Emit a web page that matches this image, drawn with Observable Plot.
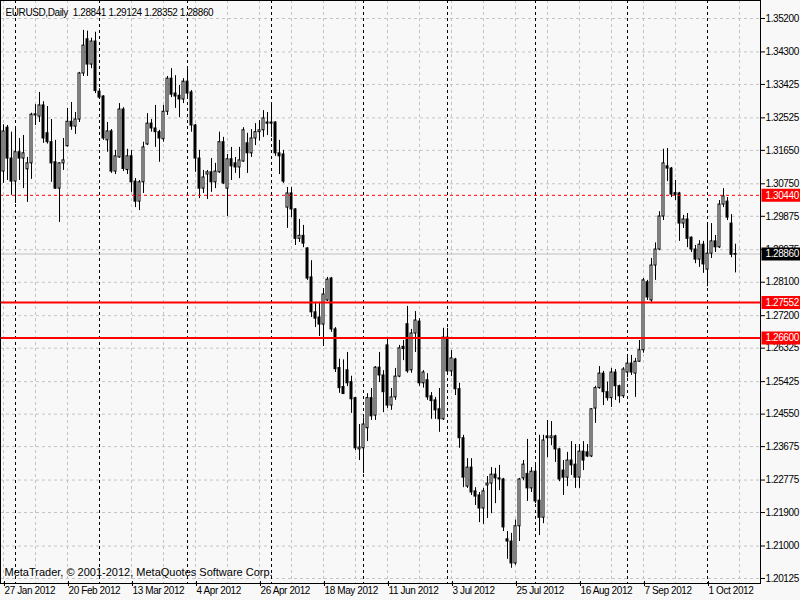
<!DOCTYPE html>
<html><head><meta charset="utf-8">
<script src="https://cdn.jsdelivr.net/npm/d3@7"></script>
<script src="https://cdn.jsdelivr.net/npm/@observablehq/plot@0.6"></script>
<style>
html,body{margin:0;padding:0;background:#f8f8f8;}
#chart svg{display:block;}
#chart svg text{letter-spacing:-0.4px;}
#chart svg .caption text{letter-spacing:0;}
</style></head><body><div id="chart"></div>
<script>
const symbolName = "EURUSD";
const period = "Daily";
const opens = [1.3108,1.3226,1.3143,1.3081,1.3160,1.3143,1.3114,1.3130,1.3259,1.3256,
1.3286,1.3211,1.3187,1.3133,1.3062,1.3130,1.3176,1.3242,1.3229,1.3248,
1.3372,1.3464,1.3396,1.3458,1.3323,1.3310,1.3192,1.3216,1.3108,1.3146,
1.3275,1.3112,1.3149,1.3081,1.3027,1.3079,1.3181,1.3237,1.3224,1.3214,
1.3195,1.3269,1.3358,1.3318,1.3312,1.3302,1.3350,1.3321,1.3232,1.3143,
1.3062,1.3100,1.3106,1.3079,1.3106,1.3187,1.3062,1.3141,1.3130,1.3119,
1.3135,1.3184,1.3157,1.3197,1.3214,1.3219,1.3240,1.3240,1.3240,1.3157,
1.3154,1.3011,1.3049,1.3006,1.2927,1.2935,1.2901,1.2823,1.2729,1.2715,
1.2696,1.2761,1.2820,1.2683,1.2579,1.2528,1.2573,1.2541,1.2498,1.2360,
1.2363,1.2417,1.2498,1.2451,1.2580,1.2559,1.2640,1.2478,1.2500,1.2556,
1.2636,1.2697,1.2573,1.2672,1.2704,1.2538,1.2546,1.2503,1.2492,1.2468,
1.2441,1.2661,1.2570,1.2602,1.2522,1.2390,1.2260,1.2311,1.2247,1.2236,
1.2201,1.2263,1.2268,1.2292,1.2282,1.2279,1.2118,1.2112,1.2053,1.2153,
1.2282,1.2294,1.2255,1.2300,1.2222,1.2176,1.2395,1.2390,1.2395,1.2360,
1.2303,1.2284,1.2330,1.2319,1.2284,1.2354,1.2352,1.2341,1.2470,1.2525,
1.2564,1.2514,1.2498,1.2567,1.2530,1.2503,1.2567,1.2591,1.2564,1.2596,
1.2627,1.2810,1.2761,1.2855,1.2898,1.2987,1.3122,1.3116,1.3050,1.3049,
1.2968,1.2979,1.2930,1.2898,1.2871,1.2911,1.2844,1.2887,1.2920,1.2904,
1.3019,1.3027,1.2968,1.28841];
const highs = [1.3234,1.3232,1.3214,1.3224,1.3197,1.3205,1.3146,1.3265,1.3288,1.3321,
1.3296,1.3283,1.3248,1.3192,1.3132,1.3197,1.3278,1.3294,1.3267,1.3375,
1.3488,1.3486,1.3467,1.3483,1.3331,1.3312,1.3240,1.3221,1.3165,1.3291,
1.3280,1.3168,1.3165,1.3089,1.3084,1.3187,1.3264,1.3248,1.3286,1.3219,
1.3286,1.3364,1.3385,1.3366,1.3340,1.3358,1.3385,1.3326,1.3235,1.3165,
1.3111,1.3111,1.3143,1.3130,1.3214,1.3200,1.3154,1.3173,1.3146,1.3173,
1.3226,1.3211,1.3221,1.3237,1.3245,1.3272,1.3267,1.3291,1.3242,1.3192,
1.3165,1.3065,1.3065,1.3008,1.2979,1.2963,1.2903,1.2868,1.2756,1.2756,
1.2793,1.2823,1.2823,1.2688,1.2603,1.2601,1.2621,1.2557,1.2500,1.2427,
1.2445,1.2510,1.2524,1.2583,1.2621,1.2572,1.2661,1.2524,1.2578,1.2640,
1.2653,1.2745,1.2683,1.2731,1.2712,1.2572,1.2564,1.2513,1.2500,1.2524,
1.2686,1.2686,1.2626,1.2605,1.2538,1.2398,1.2335,1.2335,1.2257,1.2244,
1.2255,1.2287,1.2311,1.2309,1.2317,1.2282,1.2139,1.2134,1.2170,1.2282,
1.2330,1.2387,1.2311,1.2317,1.2398,1.2398,1.2438,1.2435,1.2398,1.2363,
1.2330,1.2352,1.2381,1.2373,1.2373,1.2381,1.2373,1.2470,1.2530,1.2583,
1.2570,1.2541,1.2578,1.2575,1.2533,1.2580,1.2607,1.2613,1.2605,1.2653,
1.2820,1.2815,1.2874,1.2916,1.3000,1.3168,1.3170,1.3119,1.3084,1.3052,
1.2990,1.2995,1.2932,1.2909,1.2922,1.2920,1.2968,1.2968,1.2936,1.3030,
1.3062,1.3038,1.2992,1.29124];
const lows = [1.3076,1.3084,1.3044,1.3022,1.3084,1.3062,1.3025,1.3087,1.3232,1.3240,
1.3184,1.3182,1.3079,1.3060,1.2971,1.3111,1.3174,1.3219,1.3208,1.3240,
1.3364,1.3364,1.3385,1.3318,1.3304,1.3192,1.3160,1.3103,1.3100,1.3144,
1.3108,1.3100,1.3052,1.3011,1.3003,1.3049,1.3178,1.3214,1.3173,1.3133,
1.3187,1.3259,1.3307,1.3278,1.3253,1.3291,1.3310,1.3214,1.3106,1.3035,
1.3049,1.3033,1.3052,1.3062,1.3103,1.3073,1.2987,1.3084,1.3103,1.3089,
1.3133,1.3103,1.3146,1.3178,1.3190,1.3200,1.3205,1.3200,1.3149,1.3100,
1.3076,1.2955,1.2984,1.2909,1.2917,1.2903,1.2815,1.2715,1.2688,1.2664,
1.2637,1.2758,1.2675,1.2567,1.2511,1.2508,1.2529,1.2457,1.2357,1.2330,
1.2295,1.2381,1.2438,1.2438,1.2540,1.2459,1.2470,1.2465,1.2492,1.2553,
1.2599,1.2565,1.2565,1.2621,1.2530,1.2525,1.2492,1.2441,1.2441,1.2406,
1.2438,1.2565,1.2556,1.2505,1.2363,1.2257,1.2255,1.2236,1.2209,1.2163,
1.2158,1.2174,1.2187,1.2214,1.2249,1.2139,1.2064,1.2040,1.2048,1.2112,
1.2276,1.2220,1.2244,1.2214,1.2128,1.2160,1.2338,1.2370,1.2325,1.2273,
1.2236,1.2260,1.2290,1.2255,1.2255,1.2303,1.2338,1.2338,1.2430,1.2522,
1.2478,1.2490,1.2473,1.2492,1.2484,1.2497,1.2553,1.2559,1.2500,1.2594,
1.2619,1.2761,1.2756,1.2815,1.2895,1.2976,1.3081,1.3038,1.3030,1.2920,
1.2955,1.2903,1.2890,1.2860,1.2850,1.2834,1.2798,1.2874,1.2890,1.2901,
1.3011,1.2976,1.2876,1.28352];
const closes = [1.3216,1.3143,1.3081,1.3160,1.3143,1.3157,1.3130,1.3261,1.3262,1.3286,
1.3197,1.3187,1.3130,1.3062,1.3130,1.3138,1.3242,1.3229,1.3248,1.3372,
1.3447,1.3396,1.3458,1.3325,1.3307,1.3197,1.3216,1.3108,1.3149,1.3275,
1.3115,1.3149,1.3079,1.3027,1.3079,1.3173,1.3237,1.3224,1.3214,1.3197,
1.3269,1.3358,1.3315,1.3310,1.3302,1.3350,1.3318,1.3232,1.3143,1.3062,
1.3092,1.3106,1.3079,1.3108,1.3187,1.3076,1.3141,1.3122,1.3119,1.3138,
1.3219,1.3157,1.3197,1.3214,1.3219,1.3251,1.3237,1.3237,1.3157,1.3149,
1.3081,1.3049,1.3006,1.2927,1.2935,1.2914,1.2820,1.2729,1.2712,1.2696,
1.2777,1.2817,1.2683,1.2576,1.2525,1.2509,1.2538,1.2495,1.2363,1.2365,
1.2427,1.2498,1.2449,1.2580,1.2559,1.2514,1.2478,1.2500,1.2556,1.2632,
1.2630,1.2570,1.2672,1.2707,1.2538,1.2567,1.2500,1.2490,1.2465,1.2441,
1.2661,1.2570,1.2605,1.2522,1.2390,1.2284,1.2311,1.2244,1.2233,1.2201,
1.2247,1.2268,1.2292,1.2282,1.2279,1.2150,1.2112,1.2053,1.2153,1.2279,
1.2319,1.2255,1.2300,1.2220,1.2176,1.2384,1.2390,1.2395,1.2360,1.2279,
1.2284,1.2330,1.2317,1.2284,1.2354,1.2330,1.2341,1.2468,1.2525,1.2564,
1.2514,1.2498,1.2567,1.2530,1.2503,1.2575,1.2591,1.2567,1.2596,1.2627,
1.2815,1.2769,1.2855,1.2898,1.2987,1.3130,1.3116,1.3046,1.3045,1.2968,
1.2979,1.2927,1.2898,1.2871,1.2911,1.2858,1.2887,1.2920,1.2904,1.3019,
1.3041,1.2984,1.2884,1.28860];
const tickBars = [0,16,32,48,64,80,96,112,128,144,160,176];
const tickLabels = ["27 Jan 2012","20 Feb 2012","13 Mar 2012","4 Apr 2012","26 Apr 2012","18 May 2012","11 Jun 2012","3 Jul 2012","25 Jul 2012","16 Aug 2012","7 Sep 2012","1 Oct 2012"];
const monthStartBars = [3,24,46,67,90,111,133,156,176];
const gridBars = [0,8,16,24,32,40,48,56,64,72,80,88,96,104,112,120,128,136,144,152,160,168,176,184];
const priceTicks = [1.35200,1.34300,1.33425,1.32525,1.31650,1.30750,1.29875,1.28975,1.28100,1.27200,1.26325,1.25425,1.24550,1.23675,1.22775,1.21900,1.21000,1.20125];
const levelLines = [1.27552, 1.26600];
const alertLevel = [1.30440];
const caption = "MetaTrader, \u00a9 2001-2012, MetaQuotes Software Corp.";

const bars = opens.map((o, i) => ({i, o, h: highs[i], l: lows[i], c: closes[i]}));
const bull = bars.filter(d => d.c >= d.o);
const bear = bars.filter(d => d.c < d.o);
const last = bars[bars.length - 1];
const bid = last.c;
const f5 = d3.format(".5f");
const header = `${symbolName},${period}\u00a0\u00a0${f5(last.o)} ${f5(last.h)} ${f5(last.l)} ${f5(last.c)}`;
const FONT = "'Liberation Sans',Arial,sans-serif";
const boxSymbol = {draw(ctx) { ctx.rect(1, -6.5, 39, 13); }};

const chart = Plot.plot({
  width: 800, height: 600,
  marginTop: 0, marginLeft: 0, marginRight: 40, marginBottom: 17,
  style: {background: "#f8f8f8", fontFamily: FONT, fontSize: "10px", color: "black"},
  x: {type: "linear", domain: [-0.75, 189.25], axis: null},
  y: {domain: [1.199902, 1.356846], axis: null},
  marks: [
    Plot.ruleY(priceTicks, {stroke: "#c4c4c4", strokeDasharray: "3,3"}),
    Plot.ruleX(gridBars, {stroke: "#c4c4c4", strokeDasharray: "3,3"}),
    Plot.ruleX(monthStartBars, {stroke: "black", strokeDasharray: "3,3"}),
    Plot.ruleY([bid], {stroke: "#c0c0c0"}),
    Plot.ruleX(bars, {x: "i", y1: "l", y2: "h", stroke: "black"}),
    Plot.rect(bull, {x1: d => d.i - 0.25, x2: d => d.i + 0.25, y1: "o", y2: "c", fill: "white", stroke: "black"}),
    Plot.rect(bear, {x1: d => d.i - 0.25, x2: d => d.i + 0.25, y1: "o", y2: "c", fill: "black", stroke: "black"}),
    Plot.ruleY(alertLevel, {stroke: "red", strokeDasharray: "3,3"}),
    Plot.ruleY(levelLines, {stroke: "red", strokeWidth: 2}),
    Plot.frame({stroke: "black"}),
    Plot.axisY({anchor: "right", ticks: priceTicks, tickFormat: f5, tickSize: 4, tickPadding: 1, label: null, fontSize: 10}),
    Plot.axisX({ticks: tickBars, tickFormat: d => tickLabels[tickBars.indexOf(d)], tickSize: 5, tickPadding: 0, textAnchor: "start", dx: 1, dy: -2, label: null, fontSize: 10}),
    Plot.dot(alertLevel.concat(levelLines), {y: d => d, frameAnchor: "right", symbol: boxSymbol, fill: "red", stroke: null, r: 2}),
    Plot.dot([bid], {y: d => d, frameAnchor: "right", symbol: boxSymbol, fill: "black", stroke: null, r: 2}),
    Plot.text(alertLevel.concat(levelLines, [bid]), {y: d => d, frameAnchor: "right", dx: 5, textAnchor: "start", fill: "white", text: f5, fontSize: 10}),
    Plot.text([header], {frameAnchor: "top-left", dx: 5, dy: 8, textAnchor: "start", fontSize: 10}),
    Plot.text([caption], {frameAnchor: "bottom-left", dx: 4, dy: -8, textAnchor: "start", fontSize: 11, className: "caption"})
  ]
});
document.getElementById("chart").appendChild(chart);
</script>
</body></html>
